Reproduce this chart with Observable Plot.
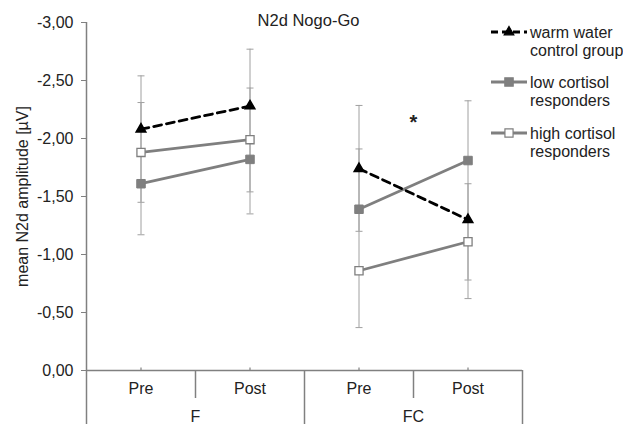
<!DOCTYPE html>
<html><head><meta charset="utf-8">
<script src="https://cdn.jsdelivr.net/npm/d3@7"></script>
<script src="https://cdn.jsdelivr.net/npm/@observablehq/plot@0.6"></script>
<style>
body{margin:0;background:#fff;}
#wrap{position:relative;width:623px;height:424px;font-family:"Liberation Sans",Arial,sans-serif;}
#wrap svg.legend{position:absolute;left:0;top:0;}
</style></head><body><div id="wrap"></div>
<script>
// ---- data ----
const groups = ["F", "FC"];
const phases = ["Pre", "Post"];
const seriesNames = [["warm water", "control group"], ["low cortisol", "responders"], ["high cortisol", "responders"]];
const warm = [-2.08, -2.28, -1.74, -1.30];
const low  = [-1.61, -1.82, -1.39, -1.81];
const high = [-1.88, -1.99, -0.86, -1.11];
const errOuterLo = [-2.54, -2.77, -2.285, -2.325];
const errOuterHi = [-1.17, -1.35, -0.37, -0.62];
const errInnerLo = [-2.31, -2.435, -1.91, -1.61];
const errInnerHi = [-1.45, -1.54, -1.20, -0.78];
const yTicks = [0, -0.5, -1, -1.5, -2, -2.5, -3];
const title = "N2d Nogo-Go";
const yLabel = "mean N2d amplitude [µV]";
const sigMark = "*";
const sigGroup = "FC";
const sigValue = -2.16;

// ---- derived tables ----
const cats = groups.flatMap((g, gi) => phases.map((p, pi) => ({group: g, phase: p, x: gi * phases.length + pi + 0.5})));
const seriesVals = [warm, low, high];
const rows = seriesVals.map((vals, si) => vals.map((v, i) => ({series: si, group: cats[i].group, x: cats[i].x, y: v, z: si + cats[i].group}))).flat();
const errRows = cats.flatMap((c, i) => [
  {x: c.x, lo: errOuterLo[i], hi: errOuterHi[i]},
  {x: c.x, lo: errInnerLo[i], hi: errInnerHi[i]}
]);
const capRows = errRows.flatMap(e => [{x: e.x, y: e.lo}, {x: e.x, y: e.hi}]);
const centers = cats.map(c => c.x);
const inner = groups.map((g, gi) => gi * phases.length + phases.length / 2);
const outer = d3.range(groups.length + 1).map(k => k * phases.length);
const fmt = v => d3.format(".2f")(v).replace(".", ",").replace("−", "-");

const hline = {draw(ctx, size) { const w = Math.sqrt(size / Math.PI); ctx.moveTo(-w, 0); ctx.lineTo(w, 0); }};
const vtick = {draw(ctx, size) { const w = Math.sqrt(size / Math.PI); ctx.moveTo(0, 0); ctx.lineTo(0, -w); }};

const gray = "#7f7f7f", errGray = "#a0a0a0", axisGray = "#808080", ink = "#222";
const FS = 16;

const plot = Plot.plot({
  width: 623, height: 424,
  marginLeft: 86, marginRight: 101, marginTop: 22, marginBottom: 54,
  style: {fontFamily: '"Liberation Sans", Arial, sans-serif', fontSize: FS + "px", color: ink, background: "#fff"},
  x: {type: "linear", domain: [0, groups.length * phases.length], axis: null},
  y: {domain: [0, -3], axis: null},
  marks: [
    Plot.ruleX(errRows, {x: "x", y1: "lo", y2: "hi", stroke: errGray, strokeWidth: 1}),
    Plot.dot(capRows, {x: "x", y: "y", symbol: hline, r: 3.5, stroke: errGray, strokeWidth: 1, fill: "none"}),
    Plot.ruleX([0], {stroke: axisGray, strokeWidth: 1.5}),
    Plot.ruleY([0], {stroke: axisGray, strokeWidth: 1.5}),
    Plot.axisY(yTicks, {tickFormat: fmt, tickSize: 5, tickPadding: 8, stroke: axisGray, fill: ink, fontSize: FS,
      label: yLabel, labelAnchor: "center", labelArrow: "none", labelOffset: 70}),
    Plot.axisX(outer, {tickSize: 54, tickFormat: () => "", label: null, stroke: axisGray, strokeWidth: 1.5}),
    Plot.axisX(inner, {tickSize: 28, tickFormat: () => "", label: null, stroke: axisGray, strokeWidth: 1.5}),
    Plot.dot(centers, {x: d => d, y: 0, symbol: vtick, r: 3, stroke: axisGray, strokeWidth: 1.2}),
    Plot.axisX(centers, {tickSize: 0, tickPadding: 12, label: null, tickFormat: v => phases[Math.floor(v) % phases.length], fill: ink, fontSize: FS}),
    Plot.axisX(inner, {tickSize: 0, tickPadding: 40, label: null, tickFormat: v => groups[Math.floor(v / phases.length)], fill: ink, fontSize: FS}),
    Plot.line(rows.filter(d => d.series === 1), {x: "x", y: "y", z: "z", stroke: gray, strokeWidth: 2.8}),
    Plot.line(rows.filter(d => d.series === 2), {x: "x", y: "y", z: "z", stroke: gray, strokeWidth: 2.8}),
    Plot.line(rows.filter(d => d.series === 0), {x: "x", y: "y", z: "z", stroke: "#000", strokeWidth: 2.8, strokeDasharray: "8,5"}),
    Plot.dot(rows.filter(d => d.series === 1), {x: "x", y: "y", symbol: "square", r: 4.8, fill: gray, stroke: gray, strokeWidth: 1}),
    Plot.dot(rows.filter(d => d.series === 2), {x: "x", y: "y", symbol: "square", r: 4.6, fill: "#fff", stroke: gray, strokeWidth: 1.3}),
    Plot.dot(rows.filter(d => d.series === 0), {x: "x", y: "y", symbol: "triangle", r: 3.6, fill: "#000", stroke: "#000"}),
    Plot.text([sigMark], {x: groups.indexOf(sigGroup) * phases.length + phases.length / 2, y: sigValue, text: d => d, fontSize: 20, fontWeight: "bold", fill: ink, dy: 3}),
    Plot.text([title], {frameAnchor: "top", dy: -8, dx: 4, text: d => d, fontSize: 16.5, fill: ink})
  ]
});
const wrap = document.getElementById("wrap");
wrap.appendChild(plot);

// ---- legend overlay ----
const lg = d3.select(wrap).append("svg").attr("class", "legend").attr("width", 623).attr("height", 424)
  .style("font-family", '"Liberation Sans", Arial, sans-serif').style("font-size", FS + "px");
const legY = [32, 82, 133];
const styles = [
  {stroke: "#000", dash: "7,4", sym: d3.symbolTriangle, size: 40, fill: "#000", symStroke: "#000"},
  {stroke: gray, dash: null, sym: d3.symbolSquare, size: 70, fill: gray, symStroke: gray},
  {stroke: gray, dash: null, sym: d3.symbolSquare, size: 66, fill: "#fff", symStroke: gray}
];
seriesNames.forEach((name, i) => {
  const g = lg.append("g").attr("transform", `translate(491,${legY[i]})`);
  const s = styles[i];
  g.append("line").attr("x1", 0).attr("x2", 36).attr("stroke", s.stroke).attr("stroke-width", 2.8).attr("stroke-dasharray", s.dash);
  g.append("path").attr("d", d3.symbol(s.sym, s.size)()).attr("transform", "translate(18,0)")
    .attr("fill", s.fill).attr("stroke", s.symStroke).attr("stroke-width", 1.2);
  name.forEach((t, j) => g.append("text").attr("x", 39).attr("y", j * 18).attr("dy", "0.35em").attr("fill", ink).text(t));
});
</script></body></html>
